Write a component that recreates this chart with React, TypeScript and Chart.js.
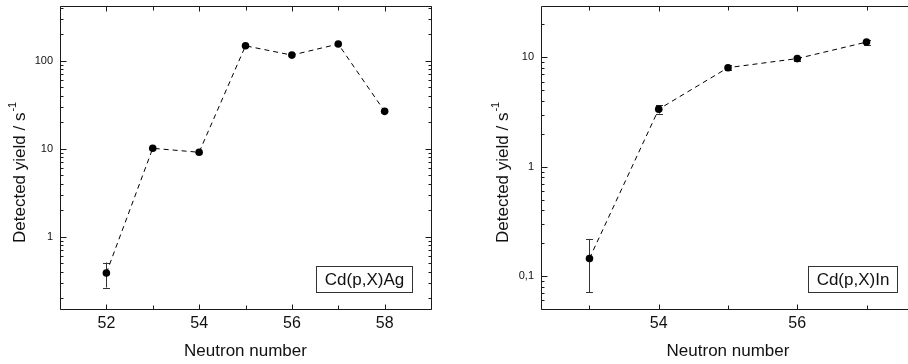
import React, { useEffect, useRef } from 'react';
import { Chart, registerables } from 'chart.js';
Chart.register(...registerables);

// ---- Data: Cd(p,X)Ag ----
const agNeutrons = [52, 53, 54, 55, 56, 57, 58];
const agYield = [0.385, 10.1, 9.1, 148, 116, 155, 26.6];
const agError = [0.122, 0, 0, 0, 0, 0, 0];
const agXTicks = [52, 54, 56, 58];
const agYTicks = [1, 10, 100];
const agYTickLabels = ['1', '10', '100'];

// ---- Data: Cd(p,X)In ----
const inNeutrons = [53, 54, 55, 56, 57];
const inYield = [0.145, 3.36, 8.05, 9.75, 13.8];
const inError = [0.074, 0.3, 0.45, 0.4, 0.75];
const inXTicks = [54, 56];
const inYTicks = [0.1, 1, 10];
const inYTickLabels = ['0,1', '1', '10'];

const FONT = 'Arial, "Liberation Sans", sans-serif';
const INK = '#1a1a1a';

type PanelProps = {
  neutrons: number[];
  yields: number[];
  errors: number[];
  xTicks: number[];
  yTicks: number[];
  yTickLabels: string[];
  xMin: number;
  xMax: number;
  yMin: number;
  yMax: number;
  label: string;
  left: number;
  width: number;
  yAxisWidth: number;
  rightPad: number;
  titleBaselineX: number;
  boxRect: [number, number, number, number];
};

function Panel(p: PanelProps) {
  const ref = useRef<HTMLCanvasElement | null>(null);
  useEffect(() => {
    if (!ref.current) return;
    const plugin = {
      id: 'frameDecor',
      beforeDatasetsDraw(chart: any) {
        const ctx = chart.ctx;
        const xs = chart.scales.x;
        const ys = chart.scales.y;
        ctx.save();
        ctx.strokeStyle = '#333';
        ctx.lineWidth = 1;
        p.neutrons.forEach((n, i) => {
          const e = p.errors[i];
          if (!e) return;
          const x = Math.round(xs.getPixelForValue(n)) + 0.5;
          const yT = ys.getPixelForValue(p.yields[i] + e);
          const yB = ys.getPixelForValue(Math.max(p.yields[i] - e, 1e-9));
          ctx.beginPath();
          ctx.moveTo(x, yT);
          ctx.lineTo(x, yB);
          ctx.moveTo(x - 3.5, Math.round(yT) + 0.5);
          ctx.lineTo(x + 3.5, Math.round(yT) + 0.5);
          ctx.moveTo(x - 3.5, Math.round(yB) + 0.5);
          ctx.lineTo(x + 3.5, Math.round(yB) + 0.5);
          ctx.stroke();
        });
        ctx.restore();
      },
      afterDraw(chart: any) {
        const ctx = chart.ctx;
        const a = chart.chartArea;
        const xs = chart.scales.x;
        const ys = chart.scales.y;
        ctx.save();
        ctx.strokeStyle = INK;
        ctx.lineWidth = 1;
        const L = Math.round(a.left) + 0.5;
        const R = Math.round(a.right) + 0.5;
        const T = Math.round(a.top) + 0.5;
        const B = Math.round(a.bottom) + 0.5;
        ctx.beginPath();
        ctx.rect(L, T, R - L, B - T);
        ctx.stroke();
        // x ticks (inward, bottom and top)
        ctx.beginPath();
        for (let v = Math.ceil(p.xMin); v <= Math.floor(p.xMax); v++) {
          const x = Math.round(xs.getPixelForValue(v)) + 0.5;
          const len = v % 2 === 0 ? 5 : 4;
          ctx.moveTo(x, B);
          ctx.lineTo(x, B - len);
          ctx.moveTo(x, T);
          ctx.lineTo(x, T + len);
        }
        // y ticks (inward, left and right)
        const d0 = Math.floor(Math.log10(p.yMin));
        const d1 = Math.ceil(Math.log10(p.yMax));
        for (let d = d0; d <= d1; d++) {
          for (let m = 1; m <= 9; m++) {
            const v = m * Math.pow(10, d);
            if (v < p.yMin || v > p.yMax) continue;
            const y = Math.round(ys.getPixelForValue(v)) + 0.5;
            const len = m === 1 ? 6 : 3;
            ctx.moveTo(L, y);
            ctx.lineTo(L + len, y);
            ctx.moveTo(R, y);
            ctx.lineTo(R - len, y);
          }
        }
        ctx.stroke();

        // legend box
        const [bx, by, bw, bh] = p.boxRect;
        ctx.fillStyle = '#fff';
        ctx.fillRect(bx, by, bw, bh);
        ctx.strokeStyle = '#333';
        ctx.strokeRect(bx + 0.5, by + 0.5, bw, bh);
        ctx.fillStyle = '#111';
        ctx.font = `17px ${FONT}`;
        ctx.textAlign = 'center';
        ctx.textBaseline = 'middle';
        ctx.fillText(p.label, bx + bw / 2 + 0.5, by + bh / 2 + 1);

        // x title
        ctx.fillStyle = '#111';
        ctx.font = `17px ${FONT}`;
        ctx.textAlign = 'center';
        ctx.textBaseline = 'alphabetic';
        ctx.fillText('Neutron number', (a.left + a.right) / 2, 356);

        // y title with superscript
        ctx.save();
        ctx.translate(p.titleBaselineX, 243);
        ctx.rotate(-Math.PI / 2);
        ctx.textAlign = 'left';
        ctx.textBaseline = 'alphabetic';
        ctx.font = `17px ${FONT}`;
        const main = 'Detected yield / s';
        ctx.fillText(main, 0, 0);
        const w = ctx.measureText(main).width;
        ctx.font = `11px ${FONT}`;
        ctx.fillText('-1', w + 1, -9);
        ctx.restore();

        ctx.restore();
      },
    };

    const chart = new Chart(ref.current, {
      type: 'line',
      data: {
        datasets: [
          {
            data: p.neutrons.map((n, i) => ({ x: n, y: p.yields[i] })),
            borderColor: '#000',
            borderWidth: 1,
            borderDash: [5, 4],
            pointRadius: 3.8,
            pointBackgroundColor: '#000',
            pointBorderColor: '#000',
            pointBorderWidth: 0,
            tension: 0,
            fill: false,
          },
        ],
      },
      options: {
        animation: false,
        responsive: false,
        devicePixelRatio: 1,
        layout: { padding: { left: 0, top: 6, right: p.rightPad, bottom: 0 } },
        plugins: { legend: { display: false }, tooltip: { enabled: false } },
        scales: {
          x: {
            type: 'linear',
            min: p.xMin,
            max: p.xMax,
            grid: { display: false, drawTicks: false },
            border: { display: false },
            afterBuildTicks: (s: any) => {
              s.ticks = p.xTicks.map((v) => ({ value: v }));
            },
            afterFit: (s: any) => {
              s.height = 55;
              s.paddingLeft = 0;
              s.paddingRight = 0;
              s.paddingTop = 0;
              s.paddingBottom = 0;
            },
            ticks: {
              padding: 5,
              color: '#111',
              font: { family: FONT, size: 16 },
              maxRotation: 0,
              autoSkip: false,
              callback: (v: any) => String(v),
            },
          },
          y: {
            type: 'logarithmic',
            min: p.yMin,
            max: p.yMax,
            grid: { display: false, drawTicks: false },
            border: { display: false },
            afterBuildTicks: (s: any) => {
              s.ticks = p.yTicks.map((v) => ({ value: v }));
            },
            afterFit: (s: any) => {
              s.width = p.yAxisWidth;
              s.paddingLeft = 0;
              s.paddingRight = 0;
              s.paddingTop = 0;
              s.paddingBottom = 0;
            },
            ticks: {
              padding: 7,
              color: '#111',
              font: { family: FONT, size: 11 },
              autoSkip: false,
              callback: (v: any) => {
                const idx = p.yTicks.findIndex((t) => Math.abs(t - v) < 1e-9 * Math.max(1, t));
                return idx >= 0 ? p.yTickLabels[idx] : '';
              },
            },
          },
        },
      },
      plugins: [plugin],
    } as any);
    return () => chart.destroy();
  }, []);
  return (
    <canvas
      ref={ref}
      width={p.width}
      height={364}
      style={{ position: 'absolute', left: p.left, top: 0, width: p.width, height: 364, display: 'block' }}
    />
  );
}

export default function App() {
  return (
    <div
      style={{
        position: 'fixed',
        left: 0,
        top: 0,
        width: 908,
        height: 364,
        overflow: 'hidden',
        background: '#fff',
      }}
    >
      <Panel
        neutrons={agNeutrons}
        yields={agYield}
        errors={agError}
        xTicks={agXTicks}
        yTicks={agYTicks}
        yTickLabels={agYTickLabels}
        xMin={51}
        xMax={59}
        yMin={0.15}
        yMax={420}
        label="Cd(p,X)Ag"
        left={0}
        width={454}
        yAxisWidth={60}
        rightPad={23}
        titleBaselineX={25}
        boxRect={[316, 266, 96, 26]}
      />
      <Panel
        neutrons={inNeutrons}
        yields={inYield}
        errors={inError}
        xTicks={inXTicks}
        yTicks={inYTicks}
        yTickLabels={inYTickLabels}
        xMin={52.3}
        xMax={57.7}
        yMin={0.05}
        yMax={29.5}
        label="Cd(p,X)In"
        left={454}
        width={480}
        yAxisWidth={87}
        rightPad={19}
        titleBaselineX={54}
        boxRect={[354, 266, 89, 26]}
      />
    </div>
  );
}
